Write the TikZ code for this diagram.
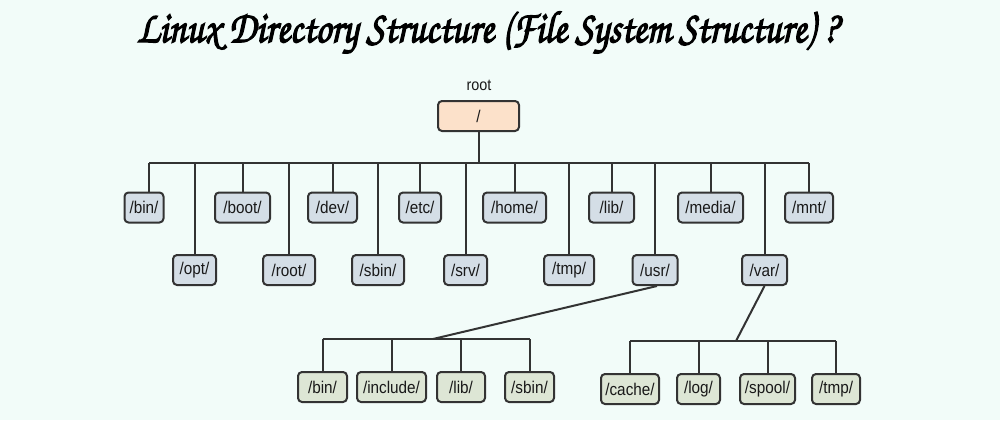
\documentclass[tikz,border=0pt]{standalone}
\usepackage[T1]{fontenc}
\usepackage{fontspec}
\setmainfont{Liberation Sans}
\newfontfamily\boxfont[FakeStretch=0.9]{Liberation Sans}
\usepackage{graphicx}
\definecolor{bgc}{HTML}{F2FCF9}
\definecolor{linec}{HTML}{333333}
\definecolor{rootc}{HTML}{FCE1CA}
\definecolor{bluec}{HTML}{D4DEE6}
\definecolor{greenc}{HTML}{DDE6D5}
\newcommand{\heavytext}[1]{\special{pdf:literal q 2 Tr 0.3 w}#1\special{pdf:literal Q}}
\tikzset{
  dirbox/.style={draw=linec, line width=2pt, rounded corners=4pt, minimum height=30pt,
    inner xsep=0pt, font=\boxfont\fontsize{17}{19}\selectfont, text=black!90},
  topdir/.style={dirbox, fill=bluec},
  subdir/.style={dirbox, fill=greenc},
  rootdir/.style={dirbox, fill=rootc},
  conn/.style={draw=linec, line width=2pt},
  w/.style={minimum width=#1pt}
}
\begin{document}
\begin{tikzpicture}[x=1pt,y=-1pt]
\fill[bgc] (0,0) rectangle (1000,420);
\useasboundingbox (0,0) rectangle (1000,420);

\node[inner sep=0pt] (title) at (487.5,33)
  {\resizebox*{701pt}{46pt}{\heavytext{\usefont{T1}{pzc}{mb}{it}Linux Directory Structure (File System Structure) ?}}};

\node[font=\boxfont\fontsize{16}{18}\selectfont, text=black!90] (rootlabel) at (479,85) {root};
\node[rootdir, w=81] (root) at (478.5,116) {/};

% top level
\node[topdir, w=39] (bin) at (144,207.5) {/bin/};
\node[topdir, w=43] (opt) at (194.5,270) {/opt/};
\node[topdir, w=55] (boot) at (242.5,207.5) {/boot/};
\node[topdir, w=52] (rootd) at (289,270) {/root/};
\node[topdir, w=49] (dev) at (332.5,207.5) {/dev/};
\node[topdir, w=52] (sbin) at (378,270) {/sbin/};
\node[topdir, w=42] (etc) at (420,207.5) {/etc/};
\node[topdir, w=43] (srv) at (465.5,270) {/srv/};
\node[topdir, w=63] (home) at (514.5,207.5) {/home/};
\node[topdir, w=50] (tmp) at (569,270) {/tmp/};
\node[topdir, w=45] (lib) at (611.5,207.5) {/lib/};
\node[topdir, w=45] (usr) at (655,270) {/usr/};
\node[topdir, w=65] (media) at (710.5,207.5) {/media/};
\node[topdir, w=45] (var) at (764.5,270) {/var/};
\node[topdir, w=48] (mnt) at (809,207.5) {/mnt/};

\coordinate (rootbus) at (478.5,163);
\draw[conn] (root.south) -- (rootbus);
\draw[conn] ([xshift=5pt]bin.north |- rootbus) -- (mnt.north |- rootbus);
\draw[conn] ([xshift=5pt]bin.north) -- ([xshift=5pt]bin.north |- rootbus);
\foreach \n in {opt,boot,rootd,dev,sbin,etc,srv,home,tmp,lib,usr,media,var,mnt}
  \draw[conn] (\n.north) -- (\n.north |- rootbus);

% /usr/ children
\node[subdir, w=49] (ubin) at (322.5,387) {/bin/};
\node[subdir, w=69] (uinclude) at (391.5,387) {/include/};
\node[subdir, w=48] (ulib) at (461,387) {/lib/};
\node[subdir, w=49] (usbin) at (529.5,387) {/sbin/};
\coordinate (usrbus) at (433,339);
\draw[conn] ([xshift=2pt]usr.south) -- (usrbus);
\draw[conn] (ubin.north |- usrbus) -- (usbin.north |- usrbus);
\foreach \n in {ubin,uinclude,ulib,usbin}
  \draw[conn] (\n.north) -- (\n.north |- usrbus);

% /var/ children
\node[subdir, w=58] (vcache) at (630,389) {/cache/};
\node[subdir, w=43] (vlog) at (698.5,389) {/log/};
\node[subdir, w=55] (vspool) at (767.5,389) {/spool/};
\node[subdir, w=48] (vtmp) at (836,389) {/tmp/};
\coordinate (varbus) at (736,341);
\draw[conn] (var.south) -- (varbus);
\draw[conn] (vcache.north |- varbus) -- (vtmp.north |- varbus);
\foreach \n in {vcache,vlog,vspool,vtmp}
  \draw[conn] (\n.north) -- (\n.north |- varbus);
\end{tikzpicture}
\end{document}
